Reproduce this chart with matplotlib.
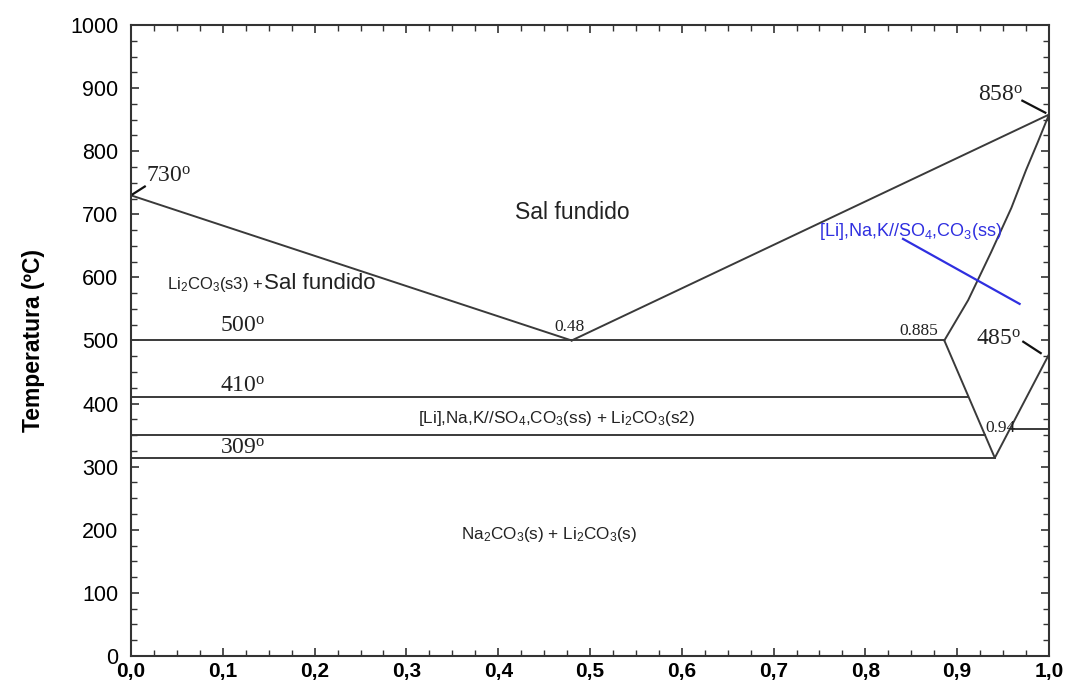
import numpy as np
import matplotlib
matplotlib.use("Agg")
import matplotlib.pyplot as plt
from matplotlib.ticker import MultipleLocator, FuncFormatter

plt.rcParams["font.family"] = ["Liberation Sans", "DejaVu Sans"]
plt.rcParams["mathtext.default"] = "regular"

# ---- phase diagram data (x = mole fraction, T in degC) ----
liq_left_x = [0.0, 0.48]
liq_left_t = [730, 500]
liq_right_x = [0.48, 1.0]
liq_right_t = [500, 858]
ss_curve_x = [0.886, 0.912, 0.937, 0.959, 0.975, 0.988, 1.0]
ss_curve_t = [500, 564, 640, 710, 770, 815, 858]
v_x = [0.886, 0.941, 1.0]
v_t = [500, 314, 478]

# horizontal isotherms: (x_start, x_end, T)
iso_x0 = [0.0, 0.0, 0.0, 0.958, 0.0]
iso_x1 = [0.886, 0.912, 0.930, 1.0, 0.941]
iso_t = [500, 410, 350, 360, 314]

blue_x = [0.841, 0.968]
blue_t = [661, 558]

# point labels (serif): text, x, T
pt_labels = ["730$^{o}$", "858$^{o}$", "485$^{o}$", "500$^{o}$", "410$^{o}$", "309$^{o}$",
             "0.48", "0.885", "0.94"]
pt_x = [0.041, 0.947, 0.945, 0.122, 0.122, 0.122, 0.478, 0.858, 0.947]
pt_t = [760, 889, 502, 522, 427, 329, 521, 515, 361]
pt_size = [17, 17, 17, 17, 17, 17, 12.5, 12.5, 12.5]

# leader lines for temperature labels
lead_x = [[0.001, 0.015], [0.996, 0.971], [0.991, 0.972]]
lead_t = [[731, 744], [861, 880], [480, 498]]

xticks = np.arange(0, 1.01, 0.1)
yticks = np.arange(0, 1001, 100)

fig = plt.figure(figsize=(10.67, 6.88), dpi=100)
ax = fig.add_axes([0.1228, 0.0465, 0.8603, 0.9172])

lc = "#3a3a3a"
lw = 1.4
ax.plot(liq_left_x, liq_left_t, color=lc, lw=lw)
ax.plot(liq_right_x, liq_right_t, color=lc, lw=lw)
ax.plot(ss_curve_x, ss_curve_t, color=lc, lw=lw)
ax.plot(v_x, v_t, color=lc, lw=lw)
for x0, x1, t in zip(iso_x0, iso_x1, iso_t):
    ax.plot([x0, x1], [t, t], color=lc, lw=lw)
for lx, lt in zip(lead_x, lead_t):
    ax.plot(lx, lt, color="#111111", lw=1.6)
ax.plot(blue_x, blue_t, color="#2f2fe0", lw=1.6)

for s, x, t, fs in zip(pt_labels, pt_x, pt_t, pt_size):
    ax.text(x, t, s, ha="center", va="center", fontsize=fs,
            family="Liberation Serif", color="#222222")

ax.text(0.481, 703, "Sal fundido", ha="center", va="center", fontsize=16.5, color="#222222")
ax.text(0.145, 589, "Li$_2$CO$_3$(s3) + ", ha="right", va="center", fontsize=12, color="#222222")
ax.text(0.145, 591, "Sal fundido", ha="left", va="center", fontsize=16, color="#222222")
ax.text(0.464, 376, "[Li],Na,K//SO$_4$,CO$_3$(ss) + Li$_2$CO$_3$(s2)", ha="center",
        va="center", fontsize=12.3, color="#222222")
ax.text(0.455, 192, "Na$_2$CO$_3$(s) + Li$_2$CO$_3$(s)", ha="center", va="center",
        fontsize=12.3, color="#222222")
ax.text(0.849, 672, "[Li],Na,K//SO$_4$,CO$_3$(ss)", ha="center", va="center",
        fontsize=13, color="#2f2fe0")

ax.set_xlim(0, 1.0)
ax.set_ylim(0, 1000)
ax.set_xticks(xticks)
ax.set_yticks(yticks)
ax.xaxis.set_minor_locator(MultipleLocator(0.025))
ax.yaxis.set_minor_locator(MultipleLocator(25))
ax.xaxis.set_major_formatter(FuncFormatter(lambda v, p: f"{v:.1f}".replace(".", ",")))
ax.tick_params(axis="both", which="both", direction="in", top=True, right=True, color="#333333")
ax.tick_params(which="major", length=6, width=1.2)
ax.tick_params(which="minor", length=4, width=1.0)
ax.tick_params(axis="y", labelsize=15.5, pad=9)
ax.tick_params(axis="x", labelsize=15, pad=4)
for lab in ax.get_xticklabels():
    lab.set_fontweight("bold")
for sp in ax.spines.values():
    sp.set_linewidth(1.5)
    sp.set_color("#333333")

ax.set_ylabel("Temperatura (ºC)", fontsize=16.5, fontweight="bold", labelpad=18)

fig.savefig("out.png", dpi=100)
